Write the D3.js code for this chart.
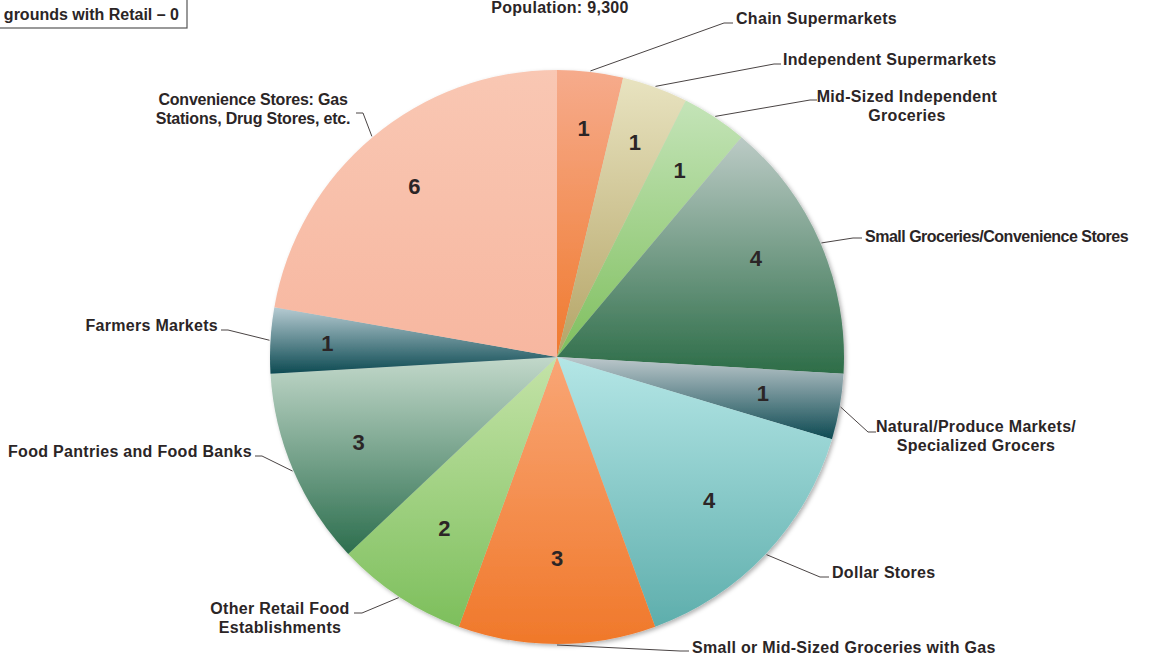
<!DOCTYPE html>
<html><head><meta charset="utf-8">
<script src="https://cdn.jsdelivr.net/npm/d3@7"></script>
<style>
html,body{margin:0;padding:0;background:#fff;}
svg{display:block;}
text{font-family:"Liberation Sans",Arial,sans-serif;font-weight:bold;fill:#2b2526;}
</style></head>
<body>
<script>
// ---- data ----
const categories = [
  "Chain Supermarkets",
  "Independent Supermarkets",
  "Mid-Sized Independent Groceries",
  "Small Groceries/Convenience Stores",
  "Natural/Produce Markets/ Specialized Grocers",
  "Dollar Stores",
  "Small or Mid-Sized Groceries with Gas",
  "Other Retail Food Establishments",
  "Food Pantries and Food Banks",
  "Farmers Markets",
  "Convenience Stores: Gas Stations, Drug Stores, etc."
];
const values = [1, 1, 1, 4, 1, 4, 3, 2, 3, 1, 6];
const labelLines = [
  ["Chain Supermarkets"],
  ["Independent Supermarkets"],
  ["Mid-Sized Independent", "Groceries"],
  ["Small Groceries/Convenience Stores"],
  ["Natural/Produce Markets/", "Specialized Grocers"],
  ["Dollar Stores"],
  ["Small or Mid-Sized Groceries with Gas"],
  ["Other Retail Food", "Establishments"],
  ["Food Pantries and Food Banks"],
  ["Farmers Markets"],
  ["Convenience Stores: Gas", "Stations, Drug Stores, etc."]
];
const titleText = "Population: 9,300";
const boxText = "grounds with Retail \u2013 0";

// ---- styles / layout ----
const colorTop = ["#f6ab8c","#e8e3c0","#c4e4b8","#bccbc6","#bdc8cc","#b4e6e6","#f9a676","#c4e3a8","#c2d8ca","#b6cbd2","#f9c7b3"];
const colorBot = ["#f07a2e","#b4a466","#7fbf5e","#2d6d48","#0d4a52","#5eaeac","#f0782a","#7dbf5c","#2c6e4e","#0d4a52","#f7b7a0"];
const valueRadius = [230, 228, 223, 222, 209, 209, 201, 205, 216, 230, 222];
const valueAngleShift = [0, 0, 0, -3, 0, 0, 0, 0, 0, 0, 0]; // degrees
// elbow point, end of horizontal segment, text x, first baseline, anchor, letter spacing
const labelLayout = [
  {ex:724, ey:23, hx:733, tx:736, ty:24, anchor:"start", ls:0.3},
  {ex:774, ey:64, hx:781, tx:783, ty:65, anchor:"start", ls:0.3},
  {ex:810, ey:100, hx:817, tx:907, ty:102, anchor:"middle", ls:0.3},
  {ex:853, ey:238, hx:862, tx:865, ty:242, anchor:"start", ls:-0.5},
  {ex:868, ey:432, hx:876, tx:976, ty:432, anchor:"middle", ls:0.3},
  {ex:820, ey:577, hx:829, tx:832, ty:578, anchor:"start", ls:0.3},
  {ex:680, ey:651, hx:689, tx:692, ty:653, anchor:"start", ls:0.3},
  {ex:362, ey:613, hx:354, tx:280, ty:614, anchor:"middle", ls:0.3},
  {ex:262, ey:456, hx:255, tx:252, ty:457, anchor:"end", ls:0.3},
  {ex:228, ey:330, hx:221, tx:218, ty:331, anchor:"end", ls:0.3},
  {ex:363, ey:113, hx:356, tx:253, ty:105, anchor:"middle", ls:-0.2}
];

const W = 1168, H = 660;
const cx = 557, cy = 357, R = 287;

const svg = d3.select("body").append("svg").attr("width", W).attr("height", H);
const defs = svg.append("defs");

const f = defs.append("filter").attr("id","shadow").attr("x","-10%").attr("y","-10%").attr("width","120%").attr("height","120%");
f.append("feDropShadow").attr("dx",2).attr("dy",2).attr("stdDeviation",2).attr("flood-color","#000").attr("flood-opacity",0.3);

values.forEach((v,i)=>{
  const g = defs.append("linearGradient").attr("id","g"+i).attr("x1",0).attr("y1",0).attr("x2",0).attr("y2",1);
  g.append("stop").attr("offset","0%").attr("stop-color",colorTop[i]);
  g.append("stop").attr("offset","100%").attr("stop-color",colorBot[i]);
});

const pie = d3.pie().sort(null).value(d=>d);
const arcs = pie(values);
const arc = d3.arc().innerRadius(0).outerRadius(R);

const chart = svg.append("g").attr("transform",`translate(${cx},${cy})`);
const slices = chart.append("g").attr("filter","url(#shadow)");
slices.selectAll("path").data(arcs).join("path")
  .attr("d",arc)
  .attr("fill",(d,i)=>`url(#g${i})`);

// value labels
function valuePos(d,i){
  const a = (d.startAngle + d.endAngle)/2 + valueAngleShift[i]*Math.PI/180;
  return [valueRadius[i]*Math.sin(a), -valueRadius[i]*Math.cos(a)];
}
chart.selectAll("text.val").data(arcs).join("text")
  .attr("class","val")
  .attr("x",(d,i)=>valuePos(d,i)[0])
  .attr("y",(d,i)=>valuePos(d,i)[1])
  .attr("text-anchor","middle")
  .attr("dominant-baseline","central")
  .attr("font-size",22)
  .text(d=>d.data);

// leader lines and category labels
const lead = svg.append("g");
arcs.forEach((d,i)=>{
  const a = (d.startAngle + d.endAngle)/2;
  const sx = cx + (R+1)*Math.sin(a), sy = cy - (R+1)*Math.cos(a);
  const L = labelLayout[i];
  lead.append("path")
    .attr("d",d3.line()([[sx,sy],[L.ex,L.ey],[L.hx,L.ey]]))
    .attr("fill","none").attr("stroke","#4a4444").attr("stroke-width",1);
  const t = lead.append("text").attr("x",L.tx).attr("y",L.ty).attr("text-anchor",L.anchor)
    .attr("font-size",16).attr("letter-spacing",L.ls);
  labelLines[i].forEach((ln,j)=>{
    t.append("tspan").attr("x",L.tx).attr("y",L.ty + j*19).text(ln);
  });
});

// title
svg.append("text").attr("x",560).attr("y",13).attr("text-anchor","middle").attr("font-size",16)
  .attr("letter-spacing",0.3).text(titleText);

// top-left box
svg.append("rect").attr("x",-2).attr("y",-2).attr("width",189).attr("height",30)
  .attr("fill","#fff").attr("stroke","#555").attr("stroke-width",1.2);
svg.append("text").attr("x",179).attr("y",20).attr("text-anchor","end").attr("font-size",16)
  .text(boxText);
</script>
</body></html>
